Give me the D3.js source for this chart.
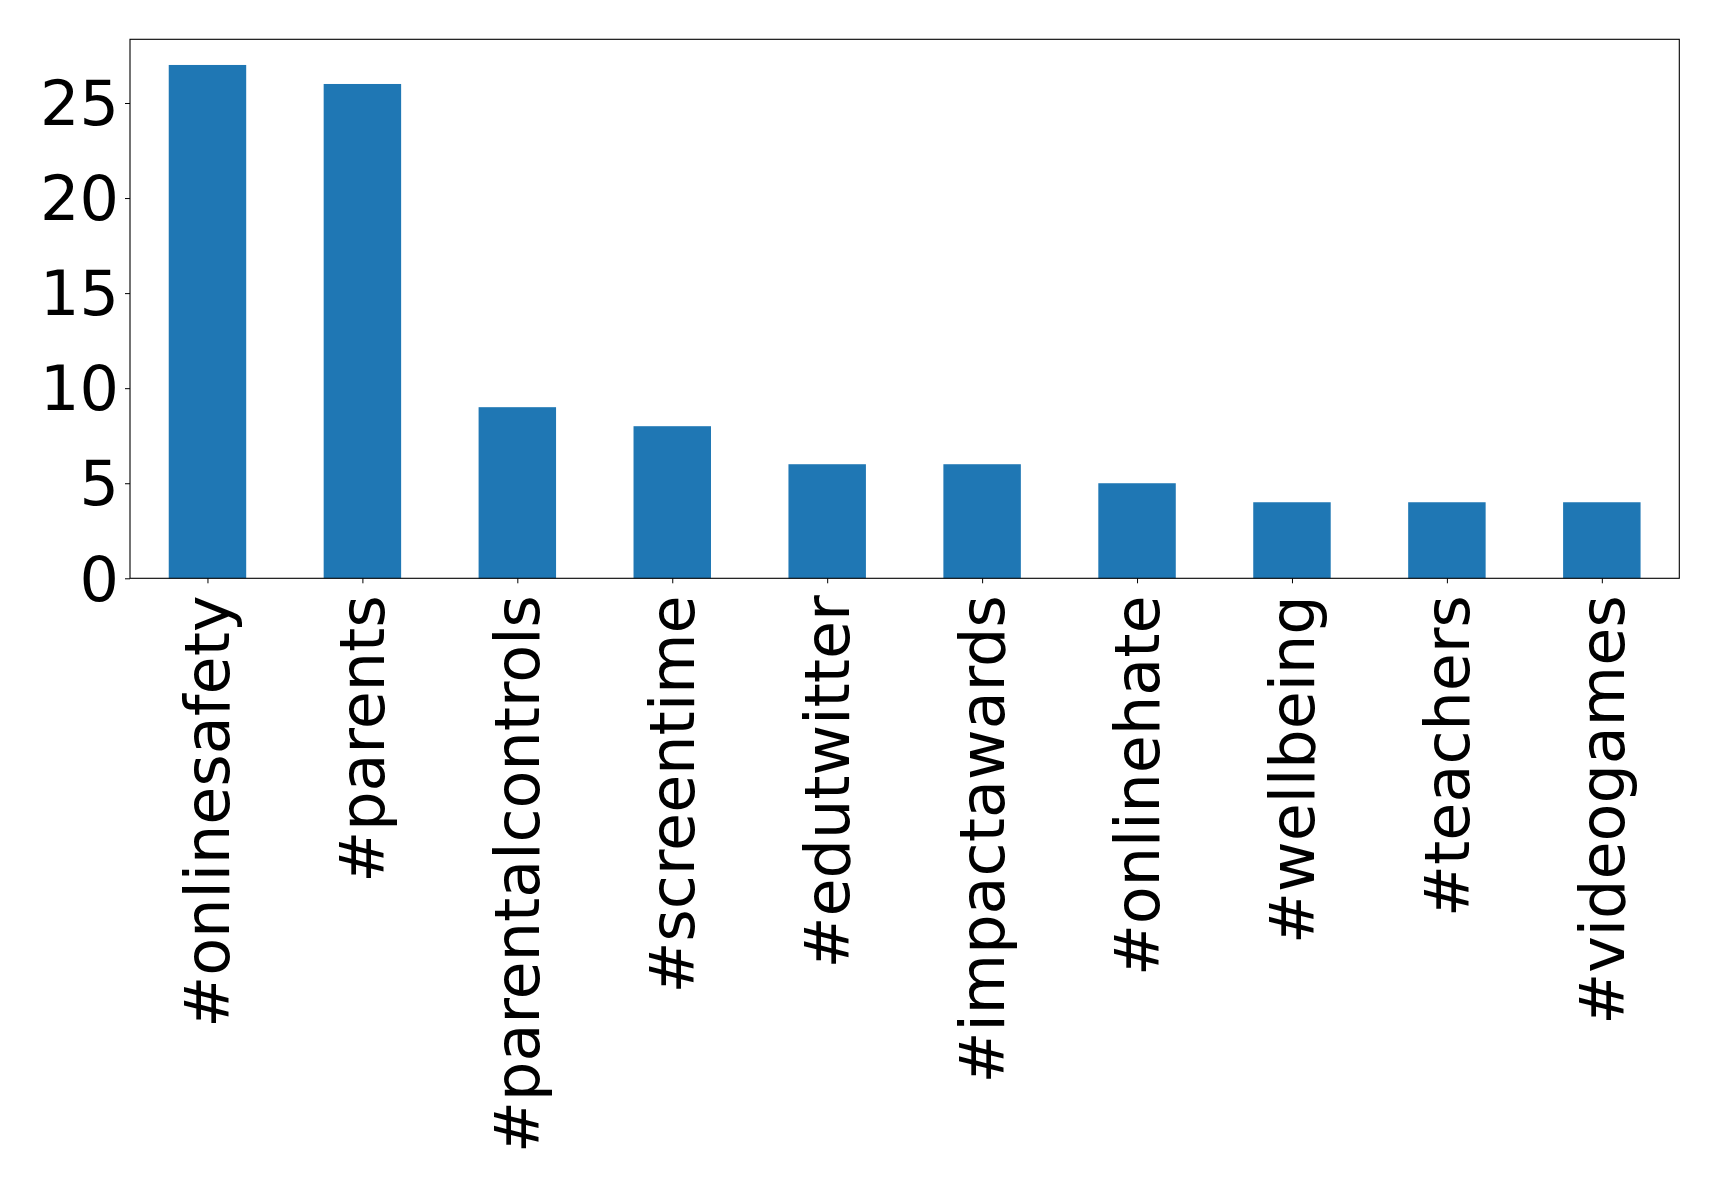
<!DOCTYPE html>
<html><head><meta charset="utf-8">
<script src="https://cdn.jsdelivr.net/npm/d3@7"></script>
<style>body{margin:0;background:#fff}svg{display:block}</style>
</head><body>
<script>
const categories = ["#onlinesafety","#parents","#parentalcontrols","#screentime","#edutwitter","#impactawards","#onlinehate","#wellbeing","#teachers","#videogames"];
const values = [27, 26, 9, 8, 6, 6, 5, 4, 4, 4];
const yTicks = [0, 5, 10, 15, 20, 25];

const W = 1719, H = 1190;
const L = 130, R = 1679.3, T = 39.3, B = 578.3;
const svg = d3.select("body").append("svg").attr("width", W).attr("height", H);

const x = d3.scaleLinear().domain([-0.5, categories.length - 0.5]).range([L, R]);
const y = d3.scaleLinear().domain([0, d3.max(values) * 1.05]).range([B, T]);
const font = "DejaVu Sans";
const fs = 62;

svg.append("g").selectAll("rect").data(values).join("rect")
  .attr("x", (d, i) => x(i - 0.25)).attr("width", (d, i) => x(i + 0.25) - x(i - 0.25))
  .attr("y", d => y(d)).attr("height", d => y(0) - y(d))
  .attr("fill", "#1f77b4");

svg.append("rect").attr("x", L).attr("y", T).attr("width", R - L).attr("height", B - T)
  .attr("fill", "none").attr("stroke", "#000").attr("stroke-width", 1.1);

const yAxis = svg.append("g").attr("transform", `translate(${L},0)`)
  .call(d3.axisLeft(y).tickValues(yTicks).tickSize(5).tickPadding(6));
yAxis.select(".domain").remove();
yAxis.selectAll("line").attr("stroke", "#000");
yAxis.selectAll("text").attr("font-family", font).attr("font-size", fs).attr("fill", "#000").attr("dy", "0.35em");

const xAxis = svg.append("g").attr("transform", `translate(0,${B})`)
  .call(d3.axisBottom(x).tickValues(d3.range(categories.length)).tickSize(5).tickFormat(i => categories[i]));
xAxis.select(".domain").remove();
xAxis.selectAll("line").attr("stroke", "#000");
xAxis.selectAll("text").attr("font-family", font).attr("font-size", fs).attr("fill", "#000")
  .attr("text-anchor", "end").attr("dy", null).attr("y", 0)
  .attr("dominant-baseline", "central")
  .attr("transform", "translate(0,17) rotate(-90)");
</script>
</body></html>
